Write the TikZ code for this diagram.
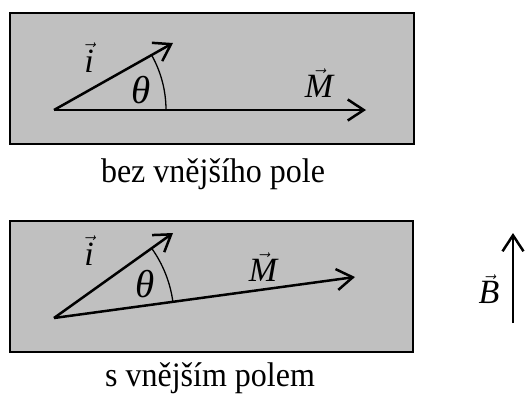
\documentclass[tikz,border=0pt]{standalone}
\usepackage{fontspec}
\usepackage{graphicx}
\setmainfont{Liberation Serif}
\usetikzlibrary{arrows.meta}
\newcommand{\vlab}[1]{$\vec{\mbox{\itshape #1}}$}
\newcommand{\thlab}{{\fontsize{39}{44}\selectfont\textit{θ}}}
\newcommand{\tallcap}[1]{\scalebox{1}[1.07]{#1}}
\begin{document}
\begin{tikzpicture}[x=1pt,y=-1pt,
  panel/.style={draw=black,line width=1.6pt,fill={rgb,255:red,192;green,192;blue,192}},
  vecarrow/.style={line width=2.5pt,-{Straight Barb[length=16pt,width=21pt,line width=2.5pt]}},
  anglearc/.style={line width=1.3pt},
  lab/.style={font=\fontsize{34}{38}\selectfont,inner sep=0pt},
  captext/.style={font=\fontsize{32}{36}\selectfont,inner sep=0pt,anchor=base}]
\useasboundingbox (0,0) rectangle (529,394);
% top panel
\node[panel,minimum width=404pt,minimum height=131pt,inner sep=0pt,anchor=north west] (box1) at (9,12) {};
\coordinate (o1) at (54,110);
\coordinate (i1) at (173,43);
\coordinate (m1) at (366,110);
\draw[vecarrow] (o1) -- (i1);
\draw[vecarrow] (o1) -- (m1);
\draw[anglearc] ([shift={(0:112)}]o1) arc[start angle=0,end angle=-29.4,radius=112];
\node[lab] (li1) at (89,58) {\vlab{i}};
\node[lab] (lt1) at (141,90) {\thlab};
\node[lab] (lm1) at (319,83) {\vlab{M}};
\node[captext] (c1) at (213,182) {\tallcap{bez vnějšího pole}};
% bottom panel
\node[panel,minimum width=403pt,minimum height=131pt,inner sep=0pt,anchor=north west] (box2) at (9,220) {};
\coordinate (o2) at (54,318);
\coordinate (i2) at (173,233);
\coordinate (m2) at (355,277);
\draw[vecarrow] (o2) -- (i2);
\draw[vecarrow] (o2) -- (m2);
\draw[anglearc] ([shift={(-7.8:120)}]o2) arc[start angle=-7.8,end angle=-35.5,radius=120];
\node[lab] (li2) at (89,251) {\vlab{i}};
\node[lab] (lt2) at (145,284) {\thlab};
\node[lab] (lm2) at (263,267) {\vlab{M}};
\node[captext] (c2) at (210,386) {\tallcap{s vnějším polem}};
% field
\coordinate (b0) at (513,323);
\coordinate (b1) at (513,233);
\draw[vecarrow] (b0) -- (b1);
\node[lab] (lb) at (489,289) {\vlab{B}};
\end{tikzpicture}
\end{document}
